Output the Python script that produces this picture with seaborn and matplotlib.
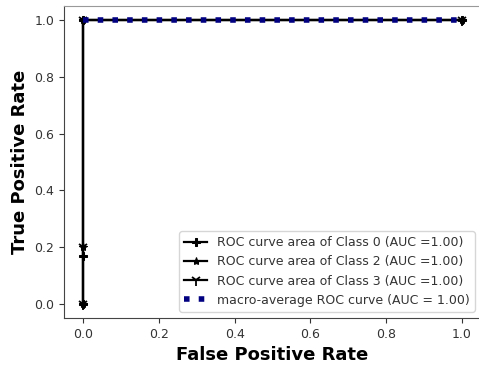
import matplotlib
matplotlib.use("Agg")
import matplotlib.pyplot as plt
import seaborn as sns
import numpy as np

# ROC points
fpr_class0 = [0.0, 0.0, 0.0, 1.0]
tpr_class0 = [0.0, 0.17, 1.0, 1.0]
fpr_class2 = [0.0, 0.0, 0.0, 1.0]
tpr_class2 = [0.0, 0.2, 1.0, 1.0]
fpr_class3 = [0.0, 0.0, 0.0, 1.0]
tpr_class3 = [0.0, 0.2, 1.0, 1.0]
fpr_macro = [0.0, 1.0]
tpr_macro = [1.0, 1.0]

labels = ["ROC curve area of Class 0 (AUC =1.00)",
          "ROC curve area of Class 2 (AUC =1.00)",
          "ROC curve area of Class 3 (AUC =1.00)",
          "macro-average ROC curve (AUC = 1.00)"]

plt.rcParams['font.family'] = ['DejaVu Sans']
plt.rcParams['text.color'] = '#333333'
plt.rcParams['xtick.color'] = '#333333'
plt.rcParams['ytick.color'] = '#333333'

fig, ax = plt.subplots(figsize=(4.79, 3.69), dpi=100)

common = dict(ax=ax, color='black', lw=1.6, estimator=None, sort=False,
              markeredgecolor='black')
sns.lineplot(x=fpr_class0, y=tpr_class0, marker='P', markersize=6, label=labels[0], **common)
sns.lineplot(x=fpr_class2, y=tpr_class2, marker='*', markersize=6, label=labels[1], **common)
sns.lineplot(x=fpr_class3, y=tpr_class3, marker='1', markersize=8, markeredgewidth=1.3,
             label=labels[2], **common)
sns.lineplot(x=fpr_macro, y=tpr_macro, ax=ax, color='navy', lw=4,
             linestyle=':', estimator=None, sort=False, label=labels[3])

ax.set_xlabel('False Positive Rate', fontsize=13, fontweight='bold', color='black')
ax.set_ylabel('True Positive Rate', fontsize=13, fontweight='bold', color='black')
ax.set_xticks(np.arange(0, 1.01, 0.2))
ax.set_yticks(np.arange(0, 1.01, 0.2))
ax.tick_params(labelsize=9)
for name, s in ax.spines.items():
    s.set_color('#444444' if name in ('left', 'bottom') else '#999999')
ax.legend(loc='lower right', fontsize=9, frameon=True, handlelength=1.8)

plt.subplots_adjust(left=0.134, right=1.004, top=0.984, bottom=0.138)
plt.savefig('out.png', dpi=100)
